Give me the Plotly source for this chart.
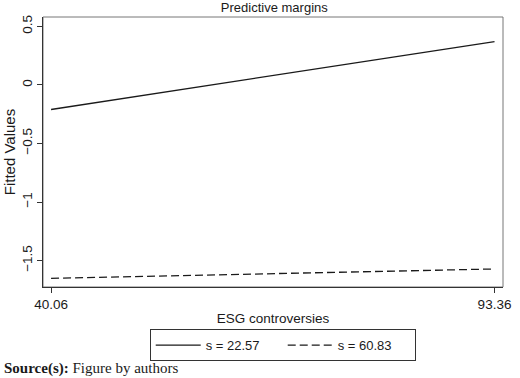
import plotly.graph_objects as go

x_vals = [40.06, 93.36]
s_low = [-0.21, 0.37]     # s = 22.57
s_high = [-1.652, -1.572] # s = 60.83
series_names = ["s = 22.57", "s = 60.83"]
y_ticks = [-1.5, -1, -0.5, 0, 0.5]
y_tick_text = ["\u22121.5", "\u22121", "\u22120.5", "0", "0.5"]
x_ticks = [40.06, 93.36]
x_tick_text = ["40.06", "93.36"]

font_fam = "Liberation Sans, Arial, sans-serif"

fig = go.Figure()
fig.add_trace(go.Scatter(x=x_vals, y=s_low, mode="lines", name=series_names[0],
                         line=dict(color="#1a1a1a", width=1.3)))
fig.add_trace(go.Scatter(x=x_vals, y=s_high, mode="lines", name=series_names[1],
                         line=dict(color="#1a1a1a", width=1.3, dash="8px,4px")))

fig.update_layout(
    width=520, height=378,
    margin=dict(l=38, r=9, t=17, b=91),
    paper_bgcolor="white", plot_bgcolor="white",
    font=dict(family=font_fam, size=13.5, color="#1a1a1a"),
    title=dict(text="Predictive margins", x=0.5275, xanchor="center", y=0.981, yanchor="middle",
               font=dict(size=13, family=font_fam)),
    xaxis=dict(range=[39.09, 94.38], tickvals=x_ticks, ticktext=x_tick_text,
               showgrid=False, zeroline=False, showline=True, linecolor="#333", linewidth=1.2,
               ticks="outside", ticklen=5, tickcolor="#333",
               title=dict(text="ESG controversies", standoff=2, font=dict(size=13.5)),
               tickfont=dict(size=13.5)),
    yaxis=dict(range=[-1.726, 0.58], tickvals=y_ticks, ticktext=y_tick_text, tickangle=-90,
               showgrid=False, zeroline=False, showline=True, linecolor="#333", linewidth=1.2,
               ticks="outside", ticklen=5, tickcolor="#333",
               title=dict(text="Fitted Values", standoff=0, font=dict(size=15)),
               tickfont=dict(size=13.5)),
    showlegend=True,
    legend=dict(orientation="h", x=0.232, xanchor="left", y=-0.156, yanchor="top",
                bordercolor="#333", borderwidth=1, font=dict(size=13),
                itemwidth=45, entrywidth=72, entrywidthmode="pixels", tracegroupgap=0),
)

fig.add_shape(type="rect", xref="paper", yref="paper", x0=0, y0=0, x1=1, y1=1,
              line=dict(color="#777", width=1), layer="below")

fig.add_annotation(xref="paper", yref="paper", x=-0.09, xanchor="left", y=-0.30, yanchor="middle",
                   showarrow=False,
                   text="<b>Source(s):</b> Figure by authors",
                   font=dict(family="Liberation Serif, Times New Roman, serif", size=15, color="#1a1a1a"))

fig.write_html("out.html")
